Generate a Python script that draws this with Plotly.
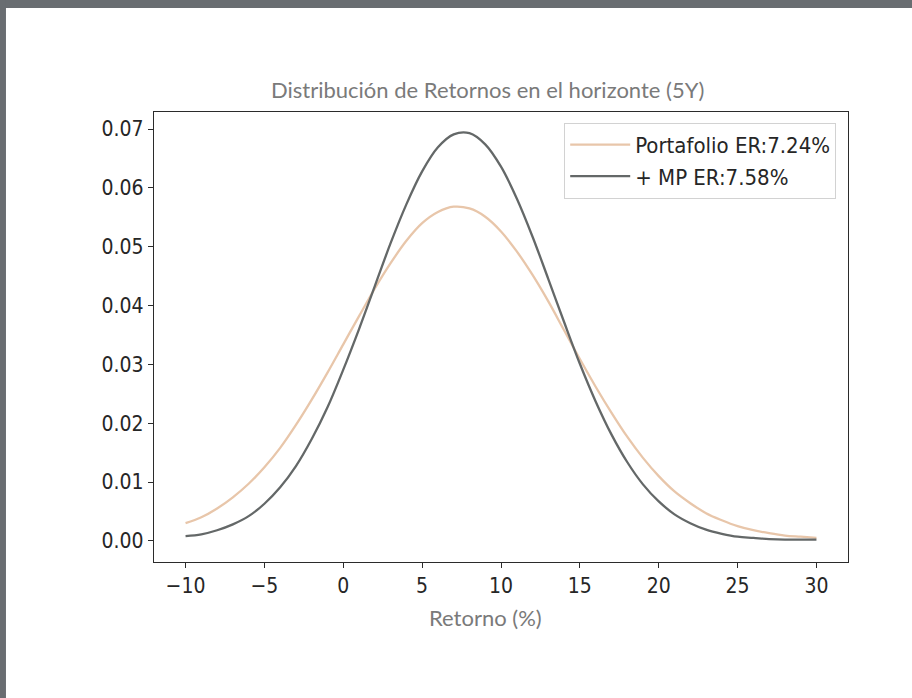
import plotly.graph_objects as go

# returns grid (%)
retorno = list(range(-10, 31))

# density values
portafolio = [0.0030, 0.0040, 0.0055, 0.0074, 0.0097, 0.0125, 0.0158, 0.0197, 0.0240, 0.0286,
              0.0334, 0.0382, 0.0429, 0.0472, 0.0510, 0.0540, 0.0559, 0.0568, 0.0565, 0.0551,
              0.0526, 0.0492, 0.0452, 0.0407, 0.0358, 0.0309, 0.0262, 0.0218, 0.0177, 0.0141,
              0.0110, 0.0084, 0.0064, 0.0047, 0.0035, 0.0025, 0.0018, 0.0013, 0.0009, 0.0007, 0.0005]
mas_mp = [0.0008, 0.0011, 0.0018, 0.0028, 0.0042, 0.0063, 0.0091, 0.0127, 0.0173, 0.0227,
          0.0291, 0.0360, 0.0433, 0.0506, 0.0572, 0.0628, 0.0669, 0.0691, 0.0693, 0.0674,
          0.0636, 0.0582, 0.0517, 0.0445, 0.0372, 0.0301, 0.0237, 0.0181, 0.0134, 0.0096,
          0.0067, 0.0045, 0.0030, 0.0019, 0.0012, 0.0007, 0.0005, 0.0003, 0.0002, 0.0002, 0.0002]

nombres = ['Portafolio ER:7.24%', '+ MP ER:7.58%']
colores = ['#e8c6aa', '#646868']

titulo = 'Distribución de Retornos en el horizonte (5Y)'
x_titulo = 'Retorno (%)'

tick_font = {'family': 'DejaVu Sans Condensed, DejaVu Sans', 'size': 21, 'color': '#262626'}
legend_font = {'family': 'DejaVu Sans Condensed, DejaVu Sans', 'size': 22, 'color': '#262626'}
label_font = {'family': 'Lato', 'size': 22, 'color': '#7a7a7a'}

fig = go.Figure()
for nombre, ys, color in zip(nombres, [portafolio, mas_mp], colores):
    fig.add_trace(go.Scatter(
        x=retorno, y=ys, name=nombre, mode='lines',
        line={'color': color, 'width': 2.3, 'shape': 'spline', 'smoothing': 1.0},
    ))

axis_style = dict(
    showline=True, linecolor='#2b2b2b', linewidth=1.3, mirror=True,
    ticks='outside', ticklen=5, tickcolor='#2b2b2b', tickwidth=1.2,
    showgrid=False, zeroline=False, tickfont=tick_font,
)

fig.update_xaxes(range=[-12, 32], tickvals=[-10, -5, 0, 5, 10, 15, 20, 25, 30], **axis_style)
fig.update_yaxes(range=[-0.0036, 0.0729], tickvals=[0, 0.01, 0.02, 0.03, 0.04, 0.05, 0.06, 0.07],
                 tickformat='.2f', **axis_style)

fig.update_layout(
    width=912, height=698,
    margin={'l': 154, 'r': 64, 't': 112, 'b': 136},
    paper_bgcolor='white', plot_bgcolor='white',
    showlegend=True,
    legend={
        'x': 0.983, 'y': 0.976, 'xanchor': 'right', 'yanchor': 'top',
        'bgcolor': 'white', 'bordercolor': '#d2d2d2', 'borderwidth': 1,
        'font': legend_font, 'tracegroupgap': 0, 'itemwidth': 60,
    },
    annotations=[
        dict(text=titulo, xref='paper', yref='paper', x=0.481, y=1.05,
             xanchor='center', yanchor='middle', showarrow=False, font=label_font),
        dict(text=x_titulo, xref='paper', yref='paper', x=0.478, y=-0.124,
             xanchor='center', yanchor='middle', showarrow=False, font=label_font),
    ],
    shapes=[
        # grey frame of the screenshot (top and left bands)
        dict(type='rect', xref='paper', yref='paper', x0=-0.23, x1=1.1, y0=1.2311, y1=1.26,
             fillcolor='#696d71', line={'width': 0}, layer='above'),
        dict(type='rect', xref='paper', yref='paper', x0=-0.23, x1=-0.2133, y0=-0.31, y1=1.26,
             fillcolor='#696d71', line={'width': 0}, layer='above'),
    ],
)

fig.write_html('out.html', config={'displayModeBar': False},
               post_script="document.body.style.margin = '0';")
